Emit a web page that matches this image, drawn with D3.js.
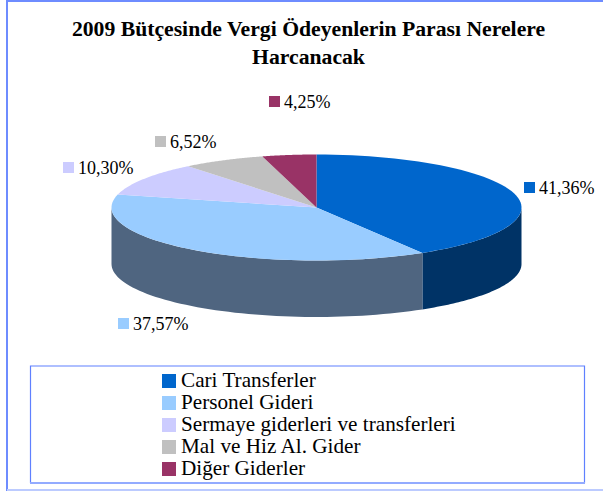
<!DOCTYPE html>
<html><head><meta charset="utf-8">
<script src="https://cdn.jsdelivr.net/npm/d3@7"></script>
<style>html,body{margin:0;padding:0;background:#fff}svg{display:block}text{font-family:"Liberation Serif",serif;fill:#000}</style>
</head><body><svg id="c" width="603" height="491"></svg>
<script>
const categories=["Cari Transferler","Personel Gideri","Sermaye giderleri ve transferleri","Mal ve Hiz Al. Gider","Diğer Giderler"];
const values=[41.36,37.57,10.30,6.52,4.25];
const valueLabels=["41,36%","37,57%","10,30%","6,52%","4,25%"];
const topColors=["#0066CC","#99CCFF","#CCCCFF","#C0C0C0","#993366"];
const sideColors=["#003366","#4F6580","#666680","#606060","#4D1A33"];
const titleLines=["2009 Bütçesinde Vergi Ödeyenlerin Parası Nerelere","Harcanacak"];
const labelAnchors=[[524,193],[118,329],[63,173],[155,147],[269,107]];

const svg=d3.select("#c");
const cx=316.5,cy=207.5,rx=205,ry=53,depth=56.5;
const arcs=d3.pie().sort(null)(values);
const pt=(a,dy=0)=>[cx+rx*Math.sin(a),cy-ry*Math.cos(a)+dy];
const samples=(a0,a1)=>d3.range(0,61).map(i=>a0+(a1-a0)*i/60);
const line=d3.line();

// frame
svg.append("path").attr("d","M7,491V1H603").attr("fill","none").attr("stroke","#6E8CFF").attr("stroke-width",2);
svg.append("line").attr("x1",7).attr("x2",603).attr("y1",490).attr("y2",490).attr("stroke","#BCCBFF").attr("stroke-width",2);

// title
svg.selectAll("text.t").data(titleLines).join("text").attr("class","t")
 .attr("x",308.5).attr("y",(d,i)=>36+i*28).attr("text-anchor","middle")
 .attr("font-size",21.7).attr("font-weight","bold").text(d=>d);

// side walls (front half only)
arcs.forEach((d,i)=>{
  const a0=Math.max(d.startAngle,Math.PI/2),a1=Math.min(d.endAngle,3*Math.PI/2);
  if(a1<=a0)return;
  const top=samples(a0,a1).map(a=>pt(a)),bot=samples(a1,a0).map(a=>pt(a,depth));
  svg.append("path").attr("d",line(top.concat(bot))+"Z").attr("fill",sideColors[i]);
});
// top slices
arcs.forEach((d,i)=>{
  const p=samples(d.startAngle,d.endAngle).map(a=>pt(a));
  svg.append("path").attr("d",line([[cx,cy]].concat(p))+"Z").attr("fill",topColors[i]);
});
// data labels
valueLabels.forEach((t,i)=>{
  const [x,y]=labelAnchors[i];
  svg.append("rect").attr("x",x).attr("y",y-11).attr("width",11).attr("height",11).attr("fill",topColors[i]);
  svg.append("text").attr("x",x+15).attr("y",y+1).attr("font-size",18).text(t);
});
// legend
svg.append("path").attr("d","M30.5,483V366H584.5V483").attr("fill","none").attr("stroke","#5F80FF").attr("stroke-width",1.2);
svg.append("line").attr("x1",30).attr("x2",585).attr("y1",483).attr("y2",483).attr("stroke","#93ABFF").attr("stroke-width",2);
const ly=d3.scalePoint().domain(categories).range([381,469]);
categories.forEach((c,i)=>{
  svg.append("rect").attr("x",162).attr("y",ly(c)-7).attr("width",14).attr("height",14).attr("fill",topColors[i]);
  svg.append("text").attr("x",181).attr("y",ly(c)+6).attr("font-size",21.2).text(c);
});
</script></body></html>
